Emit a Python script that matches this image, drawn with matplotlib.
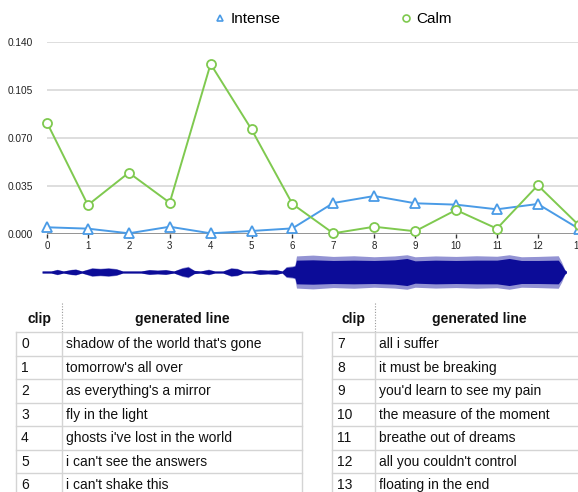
import numpy as np
import matplotlib
matplotlib.use("Agg")
from matplotlib import pyplot as plt

plt.rcParams['font.family'] = ['Liberation Sans', 'DejaVu Sans']

# chart data
clips = list(range(14))
intense = [0.0049, 0.0039, 0.0005, 0.0053, 0.0005, 0.0022, 0.0041,
           0.0226, 0.0277, 0.0224, 0.0214, 0.0180, 0.0219, 0.0039]
calm = [0.0812, 0.0211, 0.0447, 0.0228, 0.1240, 0.0763, 0.0219,
        0.0005, 0.0053, 0.0020, 0.0175, 0.0039, 0.0355, 0.0065]
y_ticks = [0.000, 0.035, 0.070, 0.105, 0.140]

# waveform envelope (clip position, relative amplitude)
wave_pos = [-0.12, 0.10, 0.25, 0.40, 0.60, 0.70, 0.85, 1.10, 1.30, 1.50,
            1.70, 1.85, 2.00, 2.30, 2.50, 2.70, 2.90, 3.10, 3.30, 3.45,
            3.60, 3.75, 3.95, 4.10, 4.30, 4.50, 4.65, 4.80, 5.00, 5.20,
            5.40, 5.60, 5.75, 5.85, 6.00, 6.06, 6.10, 6.50, 7.00, 7.50,
            8.00, 8.50, 8.80, 9.00, 9.50, 10.00, 10.50, 11.00, 11.30, 11.60,
            12.00, 12.50, 12.58, 12.66, 12.70]
wave_outer = [0.06, 0.06, 0.16, 0.06, 0.16, 0.18, 0.06, 0.26, 0.22, 0.26,
              0.20, 0.06, 0.06, 0.06, 0.15, 0.12, 0.15, 0.06, 0.26, 0.34,
              0.10, 0.06, 0.17, 0.06, 0.06, 0.26, 0.22, 0.06, 0.06, 0.15,
              0.12, 0.15, 0.06, 0.32, 0.36, 0.40, 0.95, 1.00, 0.92, 0.96,
              0.90, 0.95, 1.02, 0.90, 0.95, 0.92, 0.96, 0.93, 1.02, 0.90,
              0.92, 0.96, 0.60, 0.15, 0.05]
wave_inner = [0.06, 0.06, 0.14, 0.06, 0.14, 0.16, 0.06, 0.22, 0.19, 0.22,
              0.17, 0.06, 0.06, 0.06, 0.13, 0.10, 0.13, 0.06, 0.22, 0.29,
              0.09, 0.06, 0.14, 0.06, 0.06, 0.22, 0.19, 0.06, 0.06, 0.13,
              0.10, 0.13, 0.06, 0.27, 0.31, 0.35, 0.70, 0.72, 0.68, 0.70,
              0.68, 0.72, 0.80, 0.66, 0.70, 0.68, 0.70, 0.70, 0.80, 0.68,
              0.68, 0.70, 0.45, 0.12, 0.05]

# table data
left_clips = ['0', '1', '2', '3', '4', '5', '6']
left_lines = ["shadow of the world that's gone", "tomorrow's all over",
              "as everything's a mirror", "fly in the light",
              "ghosts i've lost in the world", "i can't see the answers",
              "i can't shake this"]
right_clips = ['7', '8', '9', '10', '11', '12', '13']
right_lines = ["all i suffer", "it must be breaking", "you'd learn to see my pain",
               "the measure of the moment", "breathe out of dreams",
               "all you couldn't control", "floating in the end"]

W, H = 578, 492
fig = plt.figure(figsize=(W / 100, H / 100), dpi=100)

blue = '#4a9be6'
green = '#7fc94f'
x_max = 13.1
px = 40.9  # pixels per clip

# ---- line chart
ax = fig.add_axes([47 / W, (H - 234) / H, x_max * px / W, 192 / H])
ax.set_xlim(0, x_max)
ax.set_ylim(0, 0.140)
for v in y_ticks[1:]:
    ax.axhline(v, color='#d8d8d8', lw=1.2, zorder=0)
ax.axhline(0, color='#8a8a8a', lw=2, zorder=1)
l_int, = ax.plot(clips, intense, color=blue, lw=1.4, marker='^', ms=7,
                 mfc='white', mec=blue, mew=1.3, clip_on=False, zorder=3)
l_calm, = ax.plot(clips, calm, color=green, lw=1.4, marker='o', ms=6.5,
                  mfc='white', mec=green, mew=1.3, clip_on=False, zorder=3)
for s in ax.spines.values():
    s.set_visible(False)
ax.set_xticks(clips)
ax.set_yticks(y_ticks)
ax.set_yticklabels([f'{v:.3f}' for v in y_ticks])
ax.tick_params(axis='x', length=3, width=1, color='#333333', labelsize=7,
               pad=2, labelcolor='#222222')
ax.tick_params(axis='y', length=0, labelsize=7.3, pad=10, labelcolor='#222222')

# legend
h1 = plt.Line2D([], [], ls='none', marker='^', ms=5, mfc='white', mec=blue, mew=1.2)
h2 = plt.Line2D([], [], ls='none', marker='o', ms=5, mfc='white', mec=green, mew=1.2)
fig.legend([h1, h2], ['Intense', 'Calm'], ncol=2, frameon=False,
           loc='center', bbox_to_anchor=(333.5 / W, (H - 19) / H),
           fontsize=11, handlelength=0.6, handletextpad=0.4,
           columnspacing=7.9)

# ---- waveform
wax = fig.add_axes([47 / W, (H - 294) / H, x_max * px / W, 44 / H])
wax.set_xlim(0, x_max)
wax.set_ylim(-1.3, 1.3)
wax.axis('off')
wo = np.array(wave_outer)
wi = np.array(wave_inner)
wax.fill_between(wave_pos, -wo, wo, color='#3a3ab0', alpha=0.55, lw=0, clip_on=False)
wax.fill_between(wave_pos, -wi, wi, color='#0c0c98', lw=0, clip_on=False)

# ---- tables
tax = fig.add_axes([0, 0, 1, 1])
tax.set_xlim(0, W)
tax.set_ylim(H, 0)
tax.axis('off')

row_top = 332
row_h = 23.5
grid_c = '#d4d4d4'


def draw_table(x0, xdiv, x1, nums, lines):
    tax.text((x0 + xdiv) / 2, 319, 'clip', ha='center', va='center',
             fontsize=10, fontweight='bold', color='#111111')
    tax.text((xdiv + x1) / 2, 319, 'generated line', ha='center', va='center',
             fontsize=10, fontweight='bold', color='#111111')
    tax.plot([xdiv, xdiv], [303, row_top], color='#999999', lw=0.8, ls=(0, (1, 1.5)))
    n = len(nums)
    for i in range(n + 1):
        y = row_top + i * row_h
        tax.plot([x0, x1], [y, y], color=grid_c, lw=1)
    y_end = row_top + n * row_h
    for xv in (x0, xdiv, x1):
        tax.plot([xv, xv], [row_top, y_end], color=grid_c, lw=1)
    for i, (c, t) in enumerate(zip(nums, lines)):
        yc = row_top + (i + 0.5) * row_h + 0.5
        tax.text(x0 + 5, yc, c, ha='left', va='center', fontsize=10, color='#111111')
        tax.text(xdiv + 4, yc, t, ha='left', va='center', fontsize=10, color='#111111')


draw_table(16, 62, 302, left_clips, left_lines)
draw_table(332, 375, 583, right_clips, right_lines)

fig.savefig('out.png', dpi=100)
